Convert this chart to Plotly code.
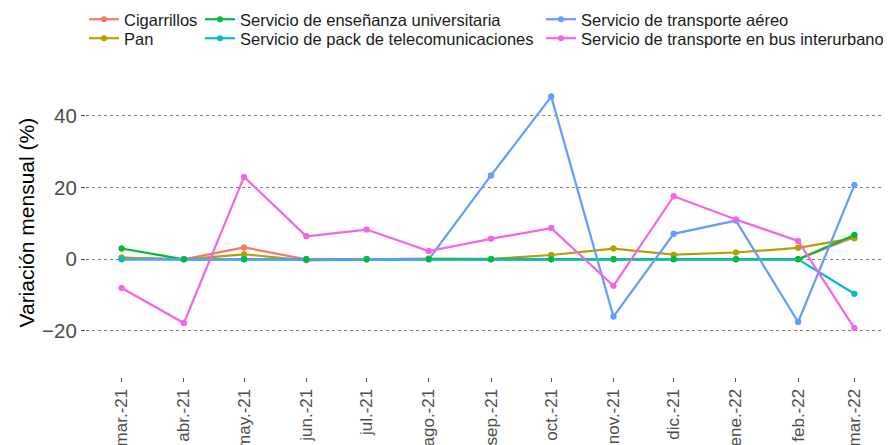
import plotly.graph_objects as go

dates = ["2021-03-01", "2021-04-01", "2021-05-01", "2021-06-01", "2021-07-01", "2021-08-01",
         "2021-09-01", "2021-10-01", "2021-11-01", "2021-12-01", "2022-01-01", "2022-02-01",
         "2022-03-01"]
tick_labels = ["mar.-21", "abr.-21", "may.-21", "jun.-21", "jul.-21", "ago.-21", "sep.-21",
               "oct.-21", "nov.-21", "dic.-21", "ene.-22", "feb.-22", "mar.-22"]

cigarrillos = [0.4, 0.0, 3.3, 0.0, 0.0, 0.0, 0.0, 0.0, 0.0, 0.0, 0.0, 0.0, 6.2]
pan = [0.5, 0.0, 1.4, -0.3, 0.0, 0.2, 0.1, 1.2, 3.0, 1.3, 1.9, 3.2, 5.9]
ensenanza = [3.0, 0.0, 0.0, 0.0, 0.0, 0.0, 0.0, 0.0, 0.0, 0.0, 0.0, 0.0, 6.8]
telecom = [0.0, 0.0, 0.0, 0.0, 0.0, 0.0, 0.0, 0.0, 0.0, 0.0, 0.0, 0.0, -9.6]
aereo = [0.0, 0.0, 0.0, 0.0, 0.0, 0.0, 23.4, 45.4, -16.0, 7.1, 10.8, -17.5, 20.7]
bus = [-8.0, -17.8, 23.0, 6.4, 8.3, 2.3, 5.7, 8.7, -7.4, 17.6, 11.1, 5.1, -19.2]

series = {
    "Cigarrillos": (cigarrillos, "#F8766D"),
    "Pan": (pan, "#B79F00"),
    "Servicio de enseñanza universitaria": (ensenanza, "#00BA38"),
    "Servicio de pack de telecomunicaciones": (telecom, "#00BFC4"),
    "Servicio de transporte aéreo": (aereo, "#619CFF"),
    "Servicio de transporte en bus interurbano": (bus, "#F564E3"),
}
legend_names = ["legend", "legend2", "legend3", "legend4", "legend5", "legend6"]
# legend box positions in figure pixels (page body adds an 8px offset)
legend_pos = [(76, 11.5), (76, 30.5), (192, 11.5), (192, 30.5), (533, 11.5), (533, 30.5)]

line_order = ["Cigarrillos", "Pan", "Servicio de enseñanza universitaria",
              "Servicio de pack de telecomunicaciones", "Servicio de transporte aéreo",
              "Servicio de transporte en bus interurbano"]
marker_order = ["Cigarrillos", "Pan", "Servicio de transporte aéreo",
                "Servicio de pack de telecomunicaciones", "Servicio de enseñanza universitaria",
                "Servicio de transporte en bus interurbano"]
names = list(series.keys())

fig = go.Figure()
for name in line_order:
    vals, col = series[name]
    fig.add_trace(go.Scatter(
        x=dates, y=vals, name=name, mode="lines+markers",
        line=dict(color=col, width=2.2), marker=dict(color=col, size=6),
        legend=legend_names[names.index(name)], hoverinfo="skip"))
for name in marker_order:
    vals, col = series[name]
    fig.add_trace(go.Scatter(
        x=dates, y=vals, name=name, mode="markers", showlegend=False,
        marker=dict(color=col, size=6)))

W, H = 883, 437
L, R, T, B = 78, 0, 54, 68
layout_legends = {}
for ln, (px, py) in zip(legend_names, legend_pos):
    layout_legends[ln] = dict(
        xref="container", yref="container", x=px / W, y=1 - py / H,
        xanchor="left", yanchor="middle", orientation="v",
        bgcolor="rgba(0,0,0,0)", font=dict(family="Liberation Sans, Arial", size=16.5, color="#1a1a1a"),
        itemwidth=30)

pw = W - L - R
ph = H - T - B
fig.update_layout(
    width=W, height=H,
    margin=dict(l=L, r=R, t=T, b=B, autoexpand=False),
    plot_bgcolor="white", paper_bgcolor="white",
    font=dict(family="Liberation Sans, Arial"),
    annotations=[dict(
        text="Variación mensual (%)", textangle=-90, showarrow=False,
        xref="paper", yref="paper", x=(18 - L) / pw, y=(H - B - 214.5) / ph,
        xanchor="center", yanchor="middle",
        font=dict(family="Liberation Sans, Arial", size=21, color="black"))],
    **layout_legends,
)
fig.update_xaxes(
    type="date", range=["2021-02-11 06:00", "2022-03-19 06:00"],
    tickvals=dates, ticktext=tick_labels, tickangle=-90,
    tickfont=dict(size=17, color="#4d4d4d"),
    showgrid=False, zeroline=False, showline=False,
    ticks="outside", ticklen=4, tickcolor="#555555", tickwidth=1,
)
fig.update_yaxes(
    range=[-32.85, 55.06], tickvals=[-20, 0, 20, 40],
    tickfont=dict(size=20.5, color="#4d4d4d"),
    showgrid=True, gridcolor="#7f7f7f", gridwidth=1, griddash="3px,3px",
    zeroline=False, showline=False,
    ticks="outside", ticklen=4, tickcolor="#555555", tickwidth=1,
)

fig.write_html("out.html")
